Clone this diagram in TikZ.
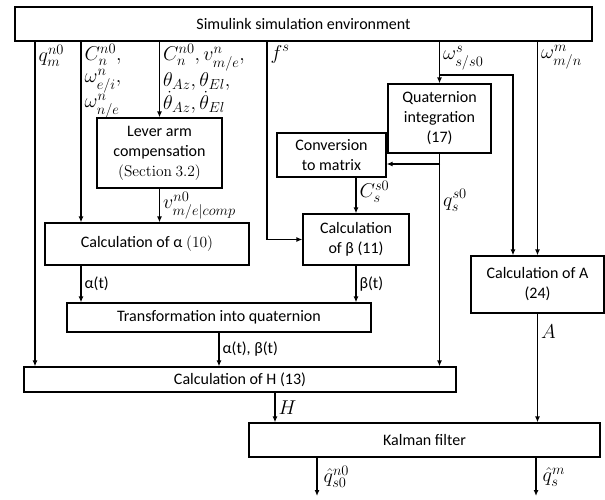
\RequirePackage{fix-cm}
\documentclass[tikz,border=0pt]{standalone}
\usepackage{amsmath}
\usepackage[no-math]{fontspec}
\setmainfont{Carlito}
\usepackage{tikz}
\usetikzlibrary{arrows.meta}
\DeclareMathSizes{16}{20}{14.5}{11}
\newcommand{\serifnum}[1]{{\fontsize{15.5}{20}\selectfont$\mathrm{#1}$}}

\begin{document}
\begin{tikzpicture}[x=1pt, y=-1pt, line width=1.2pt, >={Latex[length=6pt,width=5pt]},
        box/.style={draw, inner sep=0pt, align=center, font=\fontsize{16}{20}\selectfont},
        lbl/.style={inner sep=3pt, align=left, font=\fontsize{16}{21.5}\selectfont}]
        \useasboundingbox (0,0) rectangle (605,499);

        % blocks
        \node[box, minimum width=577pt, minimum height=34pt] (env) at (303.5,24) {Simulink simulation environment};
        \node[box, minimum width=125pt, minimum height=70pt] (lever) at (159.5,153) {Lever arm\\compensation\\\serifnum{(Section\ 3.2)}};
        \node[box, minimum width=103pt, minimum height=69pt] (quat) at (439.5,118.5) {Quaternion\\integration\\(17)};
        \node[box, minimum width=109pt, minimum height=44pt] (conv) at (331.5,155) {Conversion\\to matrix};
        \node[box, minimum width=106pt, minimum height=51pt] (calcB) at (356,239.5) {Calculation\\of β (11)};
        \node[box, minimum width=133pt, minimum height=57pt] (calcA) at (537.5,284.5) {Calculation of A\\(24)};
        \node[box, minimum width=204pt, minimum height=42pt] (calcAl) at (147,244) {Calculation of α \serifnum{(10)}};
        \node[box, minimum width=304pt, minimum height=29pt] (trans) at (219,317.5) {Transformation into quaternion};
        \node[box, minimum width=432pt, minimum height=25pt] (calcH) at (240,379.5) {Calculation of H (13)};
        \node[box, minimum width=351pt, minimum height=34pt] (kal) at (424.5,440) {Kalman filter};

        \coordinate (xq) at (35,0);
        \coordinate (xc) at (81,0);
        \coordinate (xf) at (267,0);
        \coordinate (xb) at (513,0);
        \coordinate (xh) at (275,0);
        \coordinate (br) at (440,75);
        \coordinate (qbr) at (440,164);
        \coordinate (out1) at (317,496);
        \coordinate (out2) at (536,496);

        % inputs from the simulation
        \draw[->] (env.south -| xq) -- (calcH.north -| xq) node[lbl, at start, below right] {$q_m^{n0}$};
        \draw[->] (env.south -| xc) -- (calcAl.north -| xc) node[lbl, at start, below right, inner ysep=2pt]
            {$C_n^{n0},$\\$\omega_{e/i}^{n},$\\$\omega_{n/e}^{n}$};
        \draw[->] (env.south -| lever) -- (lever.north) node[lbl, at start, below right, inner ysep=2pt]
            {$C_n^{n0}, v_{m/e}^{n},$\\$\theta_{Az}, \theta_{El},$\\$\dot{\theta}_{Az}, \dot{\theta}_{El}$};
        \draw[->] (env.south -| xf) |- (calcB.west) node[lbl, at start, below right] {$f^s$};
        \draw[->] (env.south -| quat) -- (quat.north) node[lbl, pos=0.4, right] {$\omega_{s/s0}^{s}$};
        \draw[->] (br) -| (calcA.north -| xb);
        \draw[->] (env.south -| calcA) -- (calcA.north) node[lbl, at start, below right] {$\omega_{m/n}^{m}$};

        % attitude chain
        \draw[->] (qbr) -- (conv.east |- qbr);
        \draw[->] (quat.south) -- (calcH.north -| quat.south) node[lbl, pos=0.22, right] {$q_s^{s0}$};
        \draw[->] (calcB.north |- conv.south) -- (calcB.north) node[lbl, pos=0.4, right] {$C_s^{s0}$};
        \draw[->] (lever.south) -- (calcAl.north -| lever.south) node[lbl, midway, right] {$v_{m/e|comp}^{n0}$};
        \draw[->] (calcAl.south -| xc) -- (trans.north -| xc) node[lbl, midway, right] {α(t)};
        \draw[->] (calcB.south) -- (trans.north -| calcB.south) node[lbl, midway, right] {β(t)};
        \draw[->] (trans.south) -- (calcH.north -| trans.south) node[lbl, midway, right] {α(t), β(t)};

        % filter
        \draw[->] (calcH.south -| xh) -- (kal.north -| xh) node[lbl, midway, right] {$H$};
        \draw[->] (calcA.south) -- (kal.north -| calcA.south) node[lbl, pos=0.17, right] {$A$};
        \draw[->] (kal.south -| out1) -- (out1) node[lbl, midway, right, xshift=3pt] {$\hat{q}_{s0}^{n0}$};
        \draw[->] (kal.south -| out2) -- (out2) node[lbl, midway, right, xshift=3pt] {$\hat{q}_{s}^{m}$};

    \end{tikzpicture}
\end{document}
